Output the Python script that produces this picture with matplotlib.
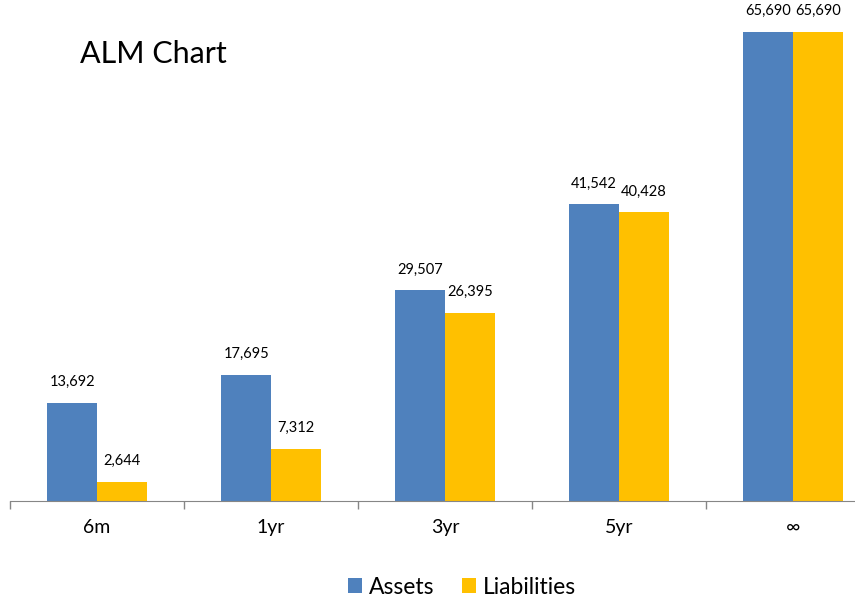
import matplotlib.pyplot as plt
import numpy as np

plt.rcParams['font.family'] = ['Lato', 'DejaVu Sans']

categories = ['6m', '1yr', '3yr', '5yr', '∞']
assets = [13692, 17695, 29507, 41542, 65690]
liabilities = [2644, 7312, 26395, 40428, 65690]

fig = plt.figure(figsize=(8.55, 6), dpi=100)
# axes run from x=10px to the right edge; the last category is clipped like the original
ax = fig.add_axes([10 / 855, 99 / 600, 845 / 855, 501 / 600])

x = np.arange(len(categories))
w = 0.285
b1 = ax.bar(x - w / 2, assets, w, color='#4F81BD', label='Assets')
b2 = ax.bar(x + w / 2, liabilities, w, color='#FFC000', label='Liabilities')

for bars, vals in [(b1, assets), (b2, liabilities)]:
    for r, v in zip(bars, vals):
        ax.annotate(f'{v:,}', (r.get_x() + r.get_width() / 2, v),
                    xytext=(0, 10), textcoords='offset points',
                    ha='center', va='bottom', fontsize=10.5, color='#000000')

ax.set_xlim(-0.5, 4.356)
ax.set_ylim(0, 65690 * 501 / 469)

ax.set_xticks(x)
ax.set_xticklabels(categories, fontsize=14)
ax.set_xticks(np.arange(-0.5, 4.3, 1), minor=True)
ax.tick_params(axis='x', which='major', length=0, pad=13)
ax.tick_params(axis='x', which='minor', length=6, color='#868686', width=1)
ax.set_yticks([])
for s in ['top', 'right', 'left']:
    ax.spines[s].set_visible(False)
ax.spines['bottom'].set_color('#868686')

fig.text(80 / 855, 1 - 54 / 600, 'ALM Chart', fontsize=22, va='center', ha='left')

fig.legend(loc='center', bbox_to_anchor=(462 / 855, 1 - 587 / 600), ncol=2,
           frameon=False, fontsize=16.5, handlelength=0.6, handleheight=0.6,
           handletextpad=0.3, columnspacing=1.2)

fig.savefig('out.png', dpi=100)
